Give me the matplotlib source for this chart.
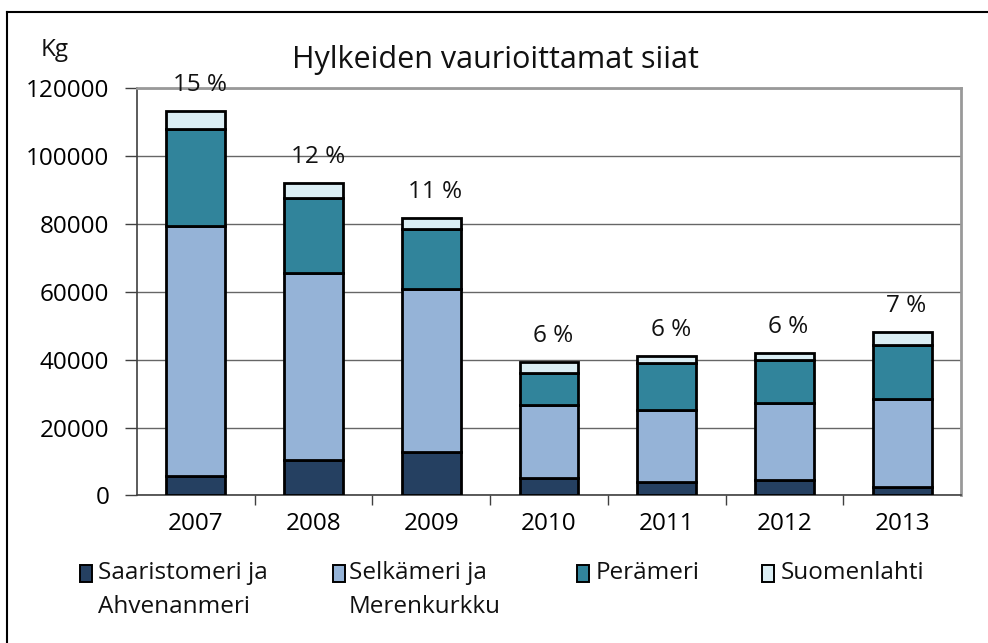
import matplotlib
matplotlib.use("Agg")
import matplotlib.pyplot as plt
import numpy as np
from matplotlib.lines import Line2D
from matplotlib.patches import Rectangle

plt.rcParams['font.family'] = ['Open Sans', 'DejaVu Sans']

# Data (kg)
years = ['2007', '2008', '2009', '2010', '2011', '2012', '2013']
saaristomeri = [5740, 10460, 12720, 5240, 4070, 4470, 2600]
selkameri = [73640, 55170, 48020, 21420, 21110, 22680, 25730]
perameri = [28480, 22000, 17760, 9340, 13760, 12760, 16000]
suomenlahti = [5390, 4510, 3330, 3230, 2150, 1970, 3830]
percent_labels = ['15 %', '12 %', '11 %', '6 %', '6 %', '6 %', '7 %']

series_names = ['Saaristomeri ja\nAhvenanmeri', 'Selkämeri ja\nMerenkurkku',
                'Perämeri', 'Suomenlahti']
colors = ['#254061', '#95b3d7', '#31849b', '#dbeef4']

fig = plt.figure(figsize=(9.88, 6.43), dpi=100)
ax = fig.add_axes([0.1387, 0.2294, 0.834, 0.6337])

x = np.arange(len(years))
bottom = np.zeros(len(years))
for vals, col in zip([saaristomeri, selkameri, perameri, suomenlahti], colors):
    ax.bar(x, vals, bottom=bottom, width=0.5, color=col,
           edgecolor='black', linewidth=2.0, zorder=3)
    bottom = bottom + np.array(vals)

# percentage labels above bars
for xi, tot, lab in zip(x, bottom, percent_labels):
    ax.annotate(lab, (xi, tot), xytext=(3, 10), textcoords='offset points',
                ha='center', va='bottom', fontsize=17.5, color='#111111')

ax.set_xlim(-0.5, len(years) - 0.5)
ax.set_ylim(0, 120000)
ax.set_yticks(np.arange(0, 120001, 20000))
ax.set_yticklabels([str(v) for v in range(0, 120001, 20000)], fontsize=17.5)
ax.set_xticks(x)
ax.set_xticklabels(years, fontsize=17.5)
ax.set_xticks(np.arange(0.5, len(years) - 0.5, 1), minor=True)
ax.tick_params(axis='x', which='major', length=0, pad=12)
ax.tick_params(axis='x', which='minor', length=7, width=1, color='#404040')
ax.tick_params(axis='y', length=9, width=1, color='#404040', pad=11)

ax.grid(axis='y', color='#666666', linewidth=1, zorder=0)
ax.set_axisbelow(True)
ax.spines['left'].set_color('#404040')
ax.spines['bottom'].set_color('#404040')
ax.spines['top'].set_color('#999999')
ax.spines['right'].set_color('#999999')
for s in ax.spines.values():
    s.set_linewidth(1.2)
ax.spines['top'].set_linewidth(2)
ax.spines['right'].set_linewidth(2)

fig.text(495 / 988, 1 - 60 / 643, 'Hylkeiden vaurioittamat siiat',
         ha='center', va='center', fontsize=22, color='#111111')
fig.text(55 / 988, 1 - 50 / 643, 'Kg', ha='center', va='center',
         fontsize=17.5, color='#111111')

# legend drawn by hand: key square next to first text line
key_x = [80, 333, 577, 762]
text_x = [98, 349, 596, 781]
for kx, tx, name, col in zip(key_x, text_x, series_names, colors):
    fig.patches.append(Rectangle((kx / 988, 1 - 582 / 643), 12 / 988, 17 / 643,
                                 transform=fig.transFigure, facecolor=col,
                                 edgecolor='black', linewidth=1.4))
    fig.text(tx / 988, 1 - 561 / 643, name, ha='left', va='top',
             fontsize=17.5, linespacing=1.55, color='#111111')

# outer chart frame (only top and left visible in the crop)
fig.add_artist(Line2D([7 / 988, 1], [1 - 11.5 / 643, 1 - 11.5 / 643],
                      transform=fig.transFigure, color='black', linewidth=1.5))
fig.add_artist(Line2D([7 / 988, 7 / 988], [0, 1 - 11.5 / 643],
                      transform=fig.transFigure, color='black', linewidth=1.5))

fig.savefig('out.png', dpi=100)
